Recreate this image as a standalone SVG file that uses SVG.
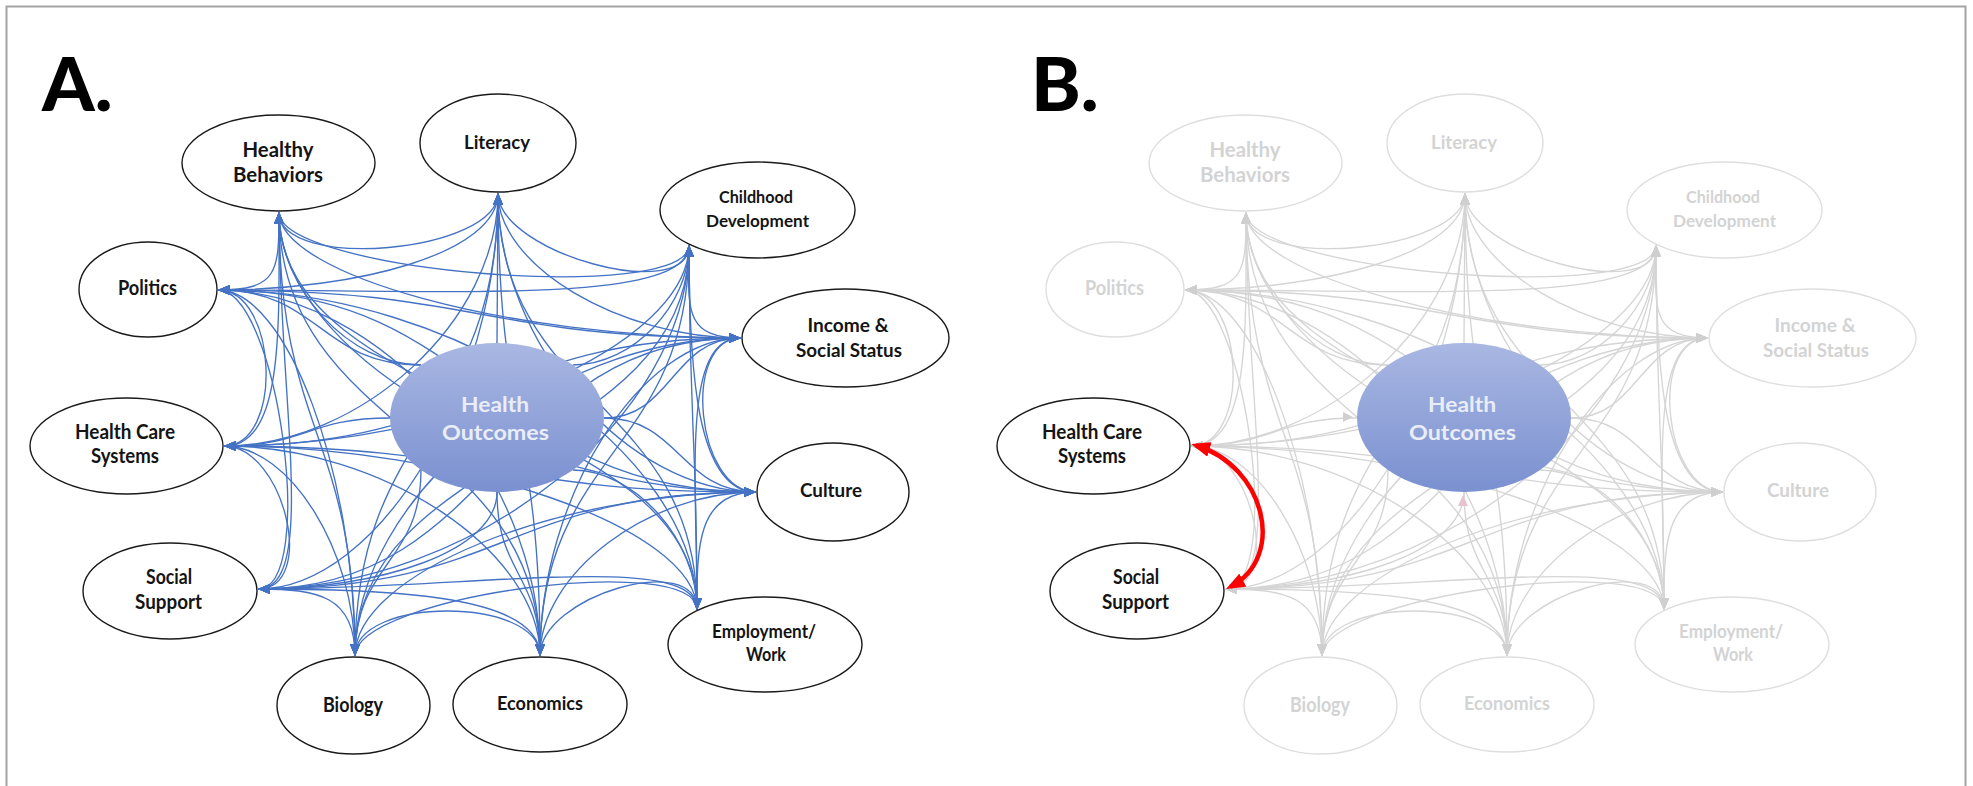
<svg xmlns="http://www.w3.org/2000/svg" xmlns:xlink="http://www.w3.org/1999/xlink" width="1973" height="786" viewBox="0 0 1973 786">
<defs>
<style>
.lbl{font-family:Lato,"Open Sans","Liberation Sans",sans-serif;font-weight:700;text-anchor:middle}
.node ellipse{fill:#fff;stroke:#1a1a1a;stroke-width:1.4}
.node text{fill:#141414}
.ghost ellipse{fill:#fff;stroke:#dedede;stroke-width:1.4}
.ghost text{fill:#d3d3d3}
.ho ellipse{fill:url(#hoGrad);stroke:none}
.ho text{fill:#e9edf8}
.edgesA{fill:none;stroke:#4472c4;stroke-width:1.35;marker-start:url(#arrA);marker-end:url(#arrA)}
.edgesB{fill:none;stroke:#d5d5d5;stroke-width:1.35;marker-start:url(#arrB);marker-end:url(#arrB)}
.panel{font-family:Lato,"Open Sans","Liberation Sans",sans-serif;font-weight:900;font-size:75px;fill:#000}
</style>
<linearGradient id="hoGrad" x1="0" y1="0" x2="0" y2="1">
<stop offset="0" stop-color="#a9b7e2"/>
<stop offset="1" stop-color="#7a90d0"/>
</linearGradient>
<marker id="arrA" viewBox="0 0 12 10" refX="12" refY="5" markerWidth="12" markerHeight="10" markerUnits="userSpaceOnUse" orient="auto-start-reverse"><path d="M0,0 L12,5 L0,10 z" fill="#4472c4"/></marker>
<marker id="arrB" viewBox="0 0 12 10" refX="12" refY="5" markerWidth="12" markerHeight="10" markerUnits="userSpaceOnUse" orient="auto-start-reverse"><path d="M0,0 L12,5 L0,10 z" fill="#cfcfcf"/></marker>
<marker id="arrR" viewBox="0 0 19 15" refX="14" refY="7.5" markerWidth="19" markerHeight="15" markerUnits="userSpaceOnUse" orient="auto-start-reverse"><path d="M0,0 L19,7.5 L0,15 z" fill="#ff0000"/></marker>
<g id="edges">
<path d="M279 212C279 272 498 253 498 193"/>
<path d="M279 212C279 272 689 305 689 245"/>
<path d="M279 212C279 275 510 338 741 338"/>
<path d="M279 212C279 352 518 492 756 492"/>
<path d="M279 212C279 411 697 411 697 610"/>
<path d="M279 212C279 434 540 434 540 656"/>
<path d="M279 212C279 434 355 434 355 656"/>
<path d="M279 212C279 400 318 589 258 589"/>
<path d="M279 212C279 329 284 446 224 446"/>
<path d="M279 212C279 272 278 290 218 290"/>
<path d="M498 193C498 253 689 305 689 245"/>
<path d="M498 193C498 266 620 338 741 338"/>
<path d="M498 193C498 343 627 492 756 492"/>
<path d="M498 193C498 402 697 402 697 610"/>
<path d="M498 193C498 425 540 425 540 656"/>
<path d="M498 193C498 425 355 425 355 656"/>
<path d="M498 193C498 391 378 589 258 589"/>
<path d="M498 193C498 320 361 446 224 446"/>
<path d="M498 193C498 253 358 290 218 290"/>
<path d="M689 245C689 305 681 338 741 338"/>
<path d="M689 245C689 369 696 492 756 492"/>
<path d="M689 245C689 428 697 428 697 610"/>
<path d="M689 245C689 451 540 451 540 656"/>
<path d="M689 245C689 451 355 451 355 656"/>
<path d="M689 245C689 417 474 589 258 589"/>
<path d="M689 245C689 346 457 446 224 446"/>
<path d="M689 245C689 305 454 290 218 290"/>
<path d="M741 338C681 338 696 492 756 492"/>
<path d="M741 338C681 338 697 474 697 610"/>
<path d="M741 338C641 338 540 497 540 656"/>
<path d="M741 338C548 338 355 497 355 656"/>
<path d="M741 338C500 338 500 589 258 589"/>
<path d="M741 338C483 338 483 446 224 446"/>
<path d="M741 338C480 338 480 290 218 290"/>
<path d="M756 492C696 492 697 550 697 610"/>
<path d="M756 492C648 492 540 574 540 656"/>
<path d="M756 492C556 492 355 574 355 656"/>
<path d="M756 492C507 492 507 589 258 589"/>
<path d="M756 492C490 492 490 446 224 446"/>
<path d="M756 492C487 492 487 290 218 290"/>
<path d="M697 610C697 550 540 596 540 656"/>
<path d="M697 610C697 550 355 596 355 656"/>
<path d="M697 610C697 550 478 589 258 589"/>
<path d="M697 610C697 528 461 446 224 446"/>
<path d="M697 610C697 450 458 290 218 290"/>
<path d="M540 656C540 596 355 596 355 656"/>
<path d="M540 656C540 596 399 589 258 589"/>
<path d="M540 656C540 551 382 446 224 446"/>
<path d="M540 656C540 473 379 290 218 290"/>
<path d="M355 656C355 596 318 589 258 589"/>
<path d="M355 656C355 551 290 446 224 446"/>
<path d="M355 656C355 473 287 290 218 290"/>
<path d="M258 589C318 589 284 446 224 446"/>
<path d="M258 589C318 589 278 290 218 290"/>
<path d="M224 446C284 446 278 290 218 290"/>
<path marker-end="none" d="M279 212C279 289 350 365 421 365"/>
<path marker-end="none" d="M498 193L497 343"/>
<path marker-end="none" d="M689 245C689 305 633 365 573 365"/>
<path marker-end="none" d="M741 338C672 338 672 418 604 418"/>
<path marker-end="none" d="M756 492C680 492 680 418 604 418"/>
<path marker-end="none" d="M697 610C697 540 635 470 573 470"/>
<path marker-end="none" d="M540 656C540 574 497 574 497 492"/>
<path marker-end="none" d="M355 656C355 563 421 563 421 470"/>
<path marker-end="none" d="M258 589C378 589 497 552 497 492"/>
<path marker-end="none" d="M224 446C307 446 307 418 390 418"/>
<path marker-end="none" d="M218 290C320 290 320 365 421 365"/>
</g>
</defs>

<rect id="frame" x="6.5" y="6.5" width="1959" height="790" fill="#fff" stroke="#a3a3a3" stroke-width="2"/>

<text id="label-A" class="panel" x="42" y="111">A.</text>
<text id="label-B" class="panel" x="1031" y="111">B.</text>

<!-- Panel A -->
<g id="connectors-A" class="edgesA"><use href="#edges" xlink:href="#edges"/></g>

<g class="lbl">
<g id="a-healthy-behaviors" class="node"><ellipse cx="278.5" cy="163" rx="96.5" ry="48"/><text x="278" y="157" font-size="20.5" textLength="71" lengthAdjust="spacingAndGlyphs">Healthy</text><text x="278" y="182" font-size="20.5" textLength="90" lengthAdjust="spacingAndGlyphs">Behaviors</text></g>
<g id="a-literacy" class="node"><ellipse cx="498" cy="143" rx="78" ry="49"/><text x="497" y="149" font-size="18.5" textLength="66" lengthAdjust="spacingAndGlyphs">Literacy</text></g>
<g id="a-childhood-development" class="node"><ellipse cx="757.5" cy="210" rx="97.5" ry="48"/><text x="756" y="203" font-size="17.5" textLength="74" lengthAdjust="spacingAndGlyphs">Childhood</text><text x="757.5" y="227" font-size="17.5" textLength="103" lengthAdjust="spacingAndGlyphs">Development</text></g>
<g id="a-income-social-status" class="node"><ellipse cx="845.5" cy="338" rx="103.5" ry="49"/><text x="848" y="332" font-size="18" textLength="81" lengthAdjust="spacingAndGlyphs">Income &amp;</text><text x="849" y="357" font-size="18" textLength="106" lengthAdjust="spacingAndGlyphs">Social Status</text></g>
<g id="a-culture" class="node"><ellipse cx="833" cy="492" rx="76" ry="49"/><text x="831" y="497" font-size="19" textLength="62" lengthAdjust="spacingAndGlyphs">Culture</text></g>
<g id="a-employment-work" class="node"><ellipse cx="765" cy="644.5" rx="97" ry="47.5"/><text x="764" y="638" font-size="18" textLength="104" lengthAdjust="spacingAndGlyphs">Employment/</text><text x="766" y="661" font-size="18" textLength="40" lengthAdjust="spacingAndGlyphs">Work</text></g>
<g id="a-economics" class="node"><ellipse cx="540" cy="704.5" rx="87" ry="47.5"/><text x="540" y="710" font-size="19" textLength="86" lengthAdjust="spacingAndGlyphs">Economics</text></g>
<g id="a-biology" class="node"><ellipse cx="353.5" cy="705.5" rx="76.5" ry="48.5"/><text x="353" y="712" font-size="20" textLength="60" lengthAdjust="spacingAndGlyphs">Biology</text></g>
<g id="a-social-support" class="node"><ellipse cx="170" cy="591" rx="87" ry="48"/><text x="169" y="584" font-size="20.5" textLength="46" lengthAdjust="spacingAndGlyphs">Social</text><text x="168.5" y="609" font-size="20.5" textLength="67" lengthAdjust="spacingAndGlyphs">Support</text></g>
<g id="a-health-care-systems" class="node"><ellipse cx="126.5" cy="446" rx="96.5" ry="48"/><text x="125" y="439" font-size="20.5" textLength="100" lengthAdjust="spacingAndGlyphs">Health Care</text><text x="125" y="463" font-size="20.5" textLength="68" lengthAdjust="spacingAndGlyphs">Systems</text></g>
<g id="a-politics" class="node"><ellipse cx="148" cy="289.5" rx="69" ry="47.5"/><text x="147.5" y="295" font-size="20.5" textLength="59" lengthAdjust="spacingAndGlyphs">Politics</text></g>
<g id="a-health-outcomes" class="ho"><ellipse cx="497" cy="417.5" rx="107" ry="74.5"/><text x="495" y="412" font-size="21" textLength="68" lengthAdjust="spacingAndGlyphs">Health</text><text x="495.5" y="440" font-size="21" textLength="107" lengthAdjust="spacingAndGlyphs">Outcomes</text></g>
</g>

<!-- Panel B -->
<g transform="translate(967,0)">
<g id="connectors-B" class="edgesB"><use href="#edges" xlink:href="#edges"/>
<path d="M376 412 L386 417 L376 422 z" fill="#d0d0d0" stroke="none" marker-start="none" marker-end="none"/>
<path d="M491 506 L496 495 L501 506 z" fill="#e6c4cd" stroke="none" marker-start="none" marker-end="none"/>
</g>
<g class="lbl">
<g id="b-healthy-behaviors" class="ghost"><ellipse cx="278.5" cy="163" rx="96.5" ry="48"/><text x="278" y="157" font-size="20.5" textLength="71" lengthAdjust="spacingAndGlyphs">Healthy</text><text x="278" y="182" font-size="20.5" textLength="90" lengthAdjust="spacingAndGlyphs">Behaviors</text></g>
<g id="b-literacy" class="ghost"><ellipse cx="498" cy="143" rx="78" ry="49"/><text x="497" y="149" font-size="18.5" textLength="66" lengthAdjust="spacingAndGlyphs">Literacy</text></g>
<g id="b-childhood-development" class="ghost"><ellipse cx="757.5" cy="210" rx="97.5" ry="48"/><text x="756" y="203" font-size="17.5" textLength="74" lengthAdjust="spacingAndGlyphs">Childhood</text><text x="757.5" y="227" font-size="17.5" textLength="103" lengthAdjust="spacingAndGlyphs">Development</text></g>
<g id="b-income-social-status" class="ghost"><ellipse cx="845.5" cy="338" rx="103.5" ry="49"/><text x="848" y="332" font-size="18" textLength="81" lengthAdjust="spacingAndGlyphs">Income &amp;</text><text x="849" y="357" font-size="18" textLength="106" lengthAdjust="spacingAndGlyphs">Social Status</text></g>
<g id="b-culture" class="ghost"><ellipse cx="833" cy="492" rx="76" ry="49"/><text x="831" y="497" font-size="19" textLength="62" lengthAdjust="spacingAndGlyphs">Culture</text></g>
<g id="b-employment-work" class="ghost"><ellipse cx="765" cy="644.5" rx="97" ry="47.5"/><text x="764" y="638" font-size="18" textLength="104" lengthAdjust="spacingAndGlyphs">Employment/</text><text x="766" y="661" font-size="18" textLength="40" lengthAdjust="spacingAndGlyphs">Work</text></g>
<g id="b-economics" class="ghost"><ellipse cx="540" cy="704.5" rx="87" ry="47.5"/><text x="540" y="710" font-size="19" textLength="86" lengthAdjust="spacingAndGlyphs">Economics</text></g>
<g id="b-biology" class="ghost"><ellipse cx="353.5" cy="705.5" rx="76.5" ry="48.5"/><text x="353" y="712" font-size="20" textLength="60" lengthAdjust="spacingAndGlyphs">Biology</text></g>
<g id="b-politics" class="ghost"><ellipse cx="148" cy="289.5" rx="69" ry="47.5"/><text x="147.5" y="295" font-size="20.5" textLength="59" lengthAdjust="spacingAndGlyphs">Politics</text></g>
<g id="b-social-support" class="node"><ellipse cx="170" cy="591" rx="87" ry="48"/><text x="169" y="584" font-size="20.5" textLength="46" lengthAdjust="spacingAndGlyphs">Social</text><text x="168.5" y="609" font-size="20.5" textLength="67" lengthAdjust="spacingAndGlyphs">Support</text></g>
<g id="b-health-care-systems" class="node"><ellipse cx="126.5" cy="446" rx="96.5" ry="48"/><text x="125" y="439" font-size="20.5" textLength="100" lengthAdjust="spacingAndGlyphs">Health Care</text><text x="125" y="463" font-size="20.5" textLength="68" lengthAdjust="spacingAndGlyphs">Systems</text></g>
<g id="b-health-outcomes" class="ho"><ellipse cx="497" cy="417.5" rx="107" ry="74.5"/><text x="495" y="412" font-size="21" textLength="68" lengthAdjust="spacingAndGlyphs">Health</text><text x="495.5" y="440" font-size="21" textLength="107" lengthAdjust="spacingAndGlyphs">Outcomes</text></g>
</g>
<g id="b-highlight-connector"><path d="M229 445.5C298 466 320 557 263.5 586.7" fill="none" stroke="#ff0000" stroke-width="4.5" marker-start="url(#arrR)" marker-end="url(#arrR)"/></g>
</g>
</svg>
